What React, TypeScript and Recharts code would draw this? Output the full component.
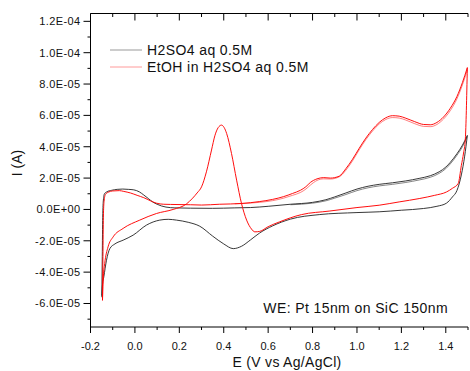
import { LineChart, Line, XAxis, YAxis } from 'recharts';

// potential in V vs Ag/AgCl, current in units of 1E-05 A
// H2SO4 aq 0.5M
const h2so4AnodicV = [-0.149, -0.147, -0.145, -0.142, -0.137, -0.127, -0.105, -0.08, -0.055, -0.03, -0.005, 0.02, 0.04, 0.06, 0.08, 0.1, 0.12, 0.14, 0.18, 0.25, 0.35, 0.45, 0.52, 0.6, 0.7, 0.8, 0.86, 0.9, 0.95, 1.0, 1.05, 1.1, 1.16, 1.22, 1.28, 1.33, 1.37, 1.4, 1.42, 1.45, 1.475, 1.497];
const h2so4AnodicI = [-5.5, -3.0, -0.5, 0.6, 1.0, 1.12, 1.22, 1.28, 1.3, 1.28, 1.25, 1.12, 0.92, 0.7, 0.48, 0.33, 0.22, 0.15, 0.1, 0.08, 0.07, 0.1, 0.12, 0.2, 0.33, 0.45, 0.62, 0.8, 1.05, 1.3, 1.48, 1.6, 1.7, 1.82, 1.98, 2.15, 2.4, 2.7, 3.0, 3.55, 4.1, 4.72];
const h2so4Anodic2V = [0.7, 0.8, 0.86, 0.9, 0.95, 1.0, 1.05, 1.1, 1.16, 1.22, 1.28, 1.33, 1.37, 1.4, 1.42, 1.45, 1.475, 1.495];
const h2so4Anodic2I = [0.3, 0.4, 0.55, 0.72, 0.95, 1.2, 1.38, 1.5, 1.6, 1.72, 1.88, 2.05, 2.3, 2.6, 2.9, 3.45, 4.0, 4.6];
const h2so4CathodicV = [-0.149, -0.146, -0.14, -0.128, -0.113, -0.09, -0.053, -0.008, 0.052, 0.112, 0.15, 0.187, 0.24, 0.292, 0.35, 0.4, 0.443, 0.48, 0.52, 0.562, 0.62, 0.7, 0.83, 1.0, 1.1, 1.2, 1.3, 1.36, 1.403, 1.43, 1.45, 1.47, 1.485, 1.497];
const h2so4CathodicI = [-5.6, -4.8, -4.3, -3.24, -2.5, -2.2, -1.96, -1.64, -1.0, -0.68, -0.63, -0.68, -0.82, -1.07, -1.7, -2.2, -2.5, -2.35, -1.95, -1.5, -1.05, -0.62, -0.33, -0.2, -0.15, -0.05, 0.06, 0.2, 0.4, 0.8, 1.2, 2.2, 3.4, 4.72];

// EtOH in H2SO4 aq 0.5M
const etohAnodicV = [-0.146, -0.144, -0.142, -0.139, -0.133, -0.12, -0.1, -0.07, -0.05, -0.02, 0.01, 0.04, 0.07, 0.097, 0.13, 0.16, 0.25, 0.3, 0.38, 0.48, 0.56, 0.62, 0.67, 0.71, 0.745, 0.77, 0.79, 0.82, 0.85, 0.88, 0.92, 0.95, 0.98, 1.01, 1.04, 1.07, 1.1, 1.13, 1.16, 1.19, 1.22, 1.26, 1.3, 1.33, 1.36, 1.39, 1.42, 1.45, 1.475, 1.497];
const etohAnodicI = [-5.8, -3.0, -0.5, 0.5, 0.95, 1.1, 1.18, 1.2, 1.15, 1.05, 0.9, 0.75, 0.55, 0.4, 0.33, 0.32, 0.3, 0.28, 0.33, 0.38, 0.5, 0.64, 0.82, 1.02, 1.22, 1.45, 1.72, 1.95, 2.03, 2.0, 2.12, 2.6, 3.2, 3.9, 4.55, 5.1, 5.55, 5.85, 5.98, 5.95, 5.82, 5.6, 5.42, 5.4, 5.55, 5.9, 6.45, 7.2, 8.1, 9.05];
const etohAnodic2V = [0.45, 0.56, 0.62, 0.67, 0.71, 0.745, 0.77, 0.79, 0.82, 0.85, 0.88, 0.92, 0.95, 0.98, 1.01, 1.04, 1.07, 1.1, 1.13, 1.16, 1.19, 1.22, 1.26, 1.3, 1.33, 1.36, 1.39, 1.42, 1.45, 1.475, 1.497];
const etohAnodic2I = [0.36, 0.45, 0.56, 0.72, 0.9, 1.08, 1.3, 1.55, 1.85, 1.95, 1.94, 2.08, 2.5, 3.1, 3.8, 4.45, 5.0, 5.45, 5.74, 5.86, 5.83, 5.7, 5.47, 5.3, 5.28, 5.42, 5.77, 6.3, 7.05, 7.95, 8.9];
const etohCathodicV = [-0.146, -0.143, -0.136, -0.121, -0.098, -0.053, 0.022, 0.097, 0.172, 0.232, 0.26, 0.28, 0.3, 0.322, 0.345, 0.36, 0.375, 0.39, 0.402, 0.413, 0.435, 0.458, 0.48, 0.503, 0.525, 0.54, 0.562, 0.6, 0.65, 0.75, 0.878, 1.0, 1.1, 1.19, 1.283, 1.35, 1.404, 1.43, 1.456, 1.47, 1.48, 1.488, 1.497];
const etohCathodicI = [-5.8, -4.5, -3.45, -2.39, -1.75, -1.21, -0.68, -0.26, 0.0, 0.35, 0.72, 1.05, 1.44, 2.4, 3.79, 4.7, 5.22, 5.38, 5.22, 4.85, 3.57, 1.87, 0.38, -0.68, -1.25, -1.43, -1.4, -1.1, -0.8, -0.33, -0.1, 0.12, 0.27, 0.48, 0.7, 0.9, 1.12, 1.35, 1.66, 2.8, 3.6, 4.5, 9.05];

// axis ticks
const xAllTicks = [-0.2, -0.1, 0, 0.1, 0.2, 0.3, 0.4, 0.5, 0.6, 0.7, 0.8, 0.9, 1.0, 1.1, 1.2, 1.3, 1.4, 1.5];
const xMajorTicks = [-0.2, 0, 0.2, 0.4, 0.6, 0.8, 1.0, 1.2, 1.4];
const xTickLabels = ['-0.2', '0.0', '0.2', '0.4', '0.6', '0.8', '1.0', '1.2', '1.4'];
const yAllTicks = [-7, -6, -5, -4, -3, -2, -1, 0, 1, 2, 3, 4, 5, 6, 7, 8, 9, 10, 11, 12];
const yMajorTicks = [-6, -4, -2, 0, 2, 4, 6, 8, 10, 12];
const yTickLabels = ['-6.0E-05', '-4.0E-05', '-2.0E-05', '0.0E+00', '2.0E-05', '4.0E-05', '6.0E-05', '8.0E-05', '1.0E-04', '1.2E-04'];

const FONT = '"Liberation Sans", Arial, sans-serif';

const toPoints = (v: number[], i: number[]) => v.map((x, k) => ({ v: x, i: i[k] }));
const majorIndex = (list: number[], value: number) => list.findIndex((t) => Math.abs(t - value) < 1e-6);

const BottomTick = (props: any) => {
	const { x, y, payload } = props;
	const k = majorIndex(xMajorTicks, payload.value);
	return (
		<g>
			<line x1={x} y1={y} x2={x} y2={y + (k >= 0 ? 6 : 3)} stroke='#000' />
			{k >= 0 && (
				<text x={x} y={y + 22.5} textAnchor='middle' fontSize={11} fontFamily={FONT} fill='#111'>
					{xTickLabels[k]}
				</text>
			)}
		</g>
	);
};

const TopTick = (props: any) => {
	const { x, y, payload } = props;
	const k = majorIndex(xMajorTicks, payload.value);
	return <line x1={x} y1={y} x2={x} y2={y + (k >= 0 ? 7 : 3.5)} stroke='#000' />;
};

const LeftTick = (props: any) => {
	const { x, y, payload } = props;
	const k = majorIndex(yMajorTicks, payload.value);
	return (
		<g>
			<line x1={x} y1={y} x2={x - (k >= 0 ? 7 : 3)} y2={y} stroke='#000' />
			{k >= 0 && (
				<text x={x - 10} y={y + 4} textAnchor='end' fontSize={11} fontFamily={FONT} fill='#111' letterSpacing={0.4}>
					{yTickLabels[k]}
				</text>
			)}
		</g>
	);
};

const series = [
	{ key: 'h1', data: toPoints(h2so4AnodicV, h2so4AnodicI), color: '#222', opacity: 0.9 },
	{ key: 'h2', data: toPoints(h2so4Anodic2V, h2so4Anodic2I), color: '#222', opacity: 0.55 },
	{ key: 'h3', data: toPoints(h2so4CathodicV, h2so4CathodicI), color: '#222', opacity: 0.9 },
	{ key: 'e1', data: toPoints(etohAnodicV, etohAnodicI), color: '#ff0000', opacity: 0.95 },
	{ key: 'e2', data: toPoints(etohAnodic2V, etohAnodic2I), color: '#ff0000', opacity: 0.5 },
	{ key: 'e3', data: toPoints(etohCathodicV, etohCathodicI), color: '#ff0000', opacity: 0.95 },
];

export default function App() {
	return (
		<div style={{ position: 'absolute', left: 0, top: 0, width: 470, height: 371, background: '#fff', fontFamily: FONT }}>
			<LineChart width={470} height={371} margin={{ top: 0, right: 2, bottom: 0, left: 0 }}>
				<XAxis
					xAxisId='bottom'
					dataKey='v'
					type='number'
					domain={[-0.2, 1.5]}
					ticks={xAllTicks}
					interval={0}
					height={44}
					tickSize={0}
					tickMargin={0}
					tickLine={false}
					tick={<BottomTick />}
					axisLine={{ stroke: '#000' }}
					allowDataOverflow
				/>
				<XAxis
					xAxisId='top'
					orientation='top'
					dataKey='v'
					type='number'
					domain={[-0.2, 1.5]}
					ticks={xAllTicks}
					interval={0}
					height={13.5}
					tickSize={0}
					tickMargin={0}
					tickLine={false}
					tick={<TopTick />}
					axisLine={{ stroke: '#000' }}
					allowDataOverflow
				/>
				<YAxis
					type='number'
					domain={[-7.5, 12.5]}
					ticks={yAllTicks}
					interval={0}
					width={90.5}
					tickSize={0}
					tickMargin={0}
					tickLine={false}
					tick={<LeftTick />}
					axisLine={{ stroke: '#000' }}
					allowDataOverflow
				/>
				{series.map((s) => (
					<Line
						key={s.key}
						xAxisId='bottom'
						data={s.data}
						dataKey='i'
						type='monotone'
						stroke={s.color}
						strokeOpacity={s.opacity}
						strokeWidth={1}
						dot={false}
						activeDot={false}
						isAnimationActive={false}
					/>
				))}
			</LineChart>

			<svg width={470} height={371} style={{ position: 'absolute', left: 0, top: 0, pointerEvents: 'none' }}>
				{/* legend */}
				<line x1={110} y1={50} x2={142} y2={50} stroke='#999' />
				<text x={147} y={55} fontSize={14} letterSpacing={0.4} fill='#111' fontFamily={FONT}>
					H2SO4 aq 0.5M
				</text>
				<line x1={110} y1={67} x2={142} y2={67} stroke='#ff9a9a' />
				<text x={147} y={72} fontSize={14} letterSpacing={0.4} fill='#111' fontFamily={FONT}>
					EtOH in H2SO4 aq 0.5M
				</text>

				<text x={448} y={313} textAnchor='end' fontSize={14} letterSpacing={0.4} fill='#111' fontFamily={FONT}>
					WE: Pt 15nm on SiC 150nm
				</text>

				<text x={287} y={367} textAnchor='middle' fontSize={14} letterSpacing={0.3} fill='#111' fontFamily={FONT}>
					E (V vs Ag/AgCl)
				</text>
				<text
					x={0}
					y={0}
					transform='translate(22 163) rotate(-90)'
					textAnchor='middle'
					fontSize={14}
					fill='#111'
					fontFamily={FONT}>
					I (A)
				</text>
			</svg>
		</div>
	);
}
